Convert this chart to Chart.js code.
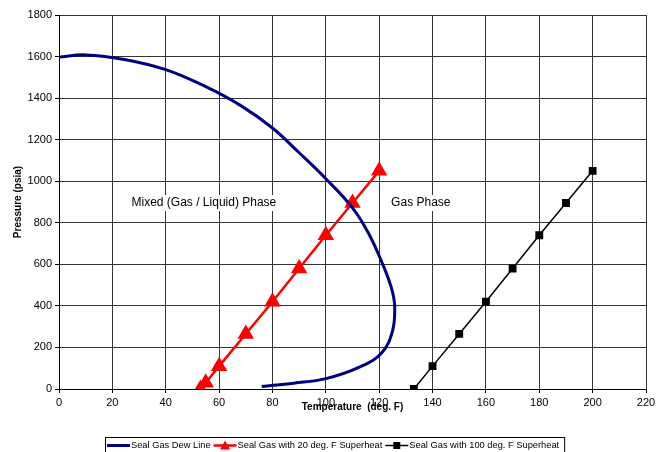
<!DOCTYPE html>
<html>
<head>
<meta charset="utf-8">
<script src="https://cdn.jsdelivr.net/npm/chart.js@4.4.0/dist/chart.umd.min.js"></script>
<style>
html,body{margin:0;padding:0;background:#fff;}
#wrap{width:662px;height:452px;position:relative;}
</style>
</head>
<body>
<div id="wrap"><canvas id="c" width="662" height="452"></canvas></div>
<script>
// ---- data ----
const seriesNames = ["Seal Gas Dew Line", "Seal Gas with 20 deg. F Superheat", "Seal Gas with 100 deg. F Superheat"];
const dewTemp = [0, 10, 25, 40, 55, 68, 80, 90, 100, 110, 116, 121, 124.5, 125.8, 125, 121, 113, 100, 88, 76];
const dewPres = [1598, 1608, 1585, 1537, 1455, 1365, 1256, 1137, 1012, 872, 750, 610, 490, 400, 280, 175, 108, 50, 28, 12];
const sh20Temp = [53, 55, 60, 70, 80, 90, 100, 110, 120];
const sh20Pres = [0, 30, 110, 265, 420, 580, 740, 895, 1050];
const sh100Temp = [133, 140, 150, 160, 170, 180, 190, 200];
const sh100Pres = [0, 110, 265, 420, 580, 740, 895, 1050];
const xTicks = [0, 20, 40, 60, 80, 100, 120, 140, 160, 180, 200, 220];
const yTicks = [0, 200, 400, 600, 800, 1000, 1200, 1400, 1600, 1800];
const xTitle = "Temperature  (deg. F)";
const yTitle = "Pressure (psia)";
const annoText = ["Mixed (Gas / Liquid) Phase", "Gas Phase"];
const annoX = [54.3, 135.6];
const annoY = [895, 895];

const pts = (xs, ys) => xs.map((x, i) => ({x: x, y: ys[i]}));
const FONT = "'Liberation Sans', Arial, sans-serif";

const annoPlugin = {
  id: 'anno',
  afterDatasetsDraw(chart) {
    const ctx = chart.ctx, xs = chart.scales.x, ys = chart.scales.y;
    ctx.save();
    ctx.font = "12px " + FONT;
    ctx.textAlign = 'center';
    ctx.textBaseline = 'middle';
    annoText.forEach((t, i) => {
      const px = xs.getPixelForValue(annoX[i]), py = ys.getPixelForValue(annoY[i]);
      const w = ctx.measureText(t).width;
      ctx.fillStyle = '#fff';
      ctx.fillRect(px - w / 2 - 3, py - 8, w + 6, 16);
      ctx.fillStyle = '#000';
      ctx.fillText(t, px, py);
    });
    ctx.restore();
  }
};

const legendPlugin = {
  id: 'legendBox',
  afterDraw(chart) {
    const ctx = chart.ctx;
    ctx.save();
    ctx.font = "9.3px " + FONT;
    ctx.textBaseline = 'middle';
    const top = 437, cy = 445.5;
    let x = 107;
    const sw = 23;
    const styles = chart.data.datasets;
    const startX = 105;
    styles.forEach((ds, i) => {
      ctx.strokeStyle = ds.borderColor;
      ctx.lineWidth = ds.borderWidth;
      ctx.beginPath(); ctx.moveTo(x, cy); ctx.lineTo(x + sw, cy); ctx.stroke();
      const mx = x + sw / 2;
      ctx.fillStyle = ds.borderColor;
      if (ds.pointStyle === 'triangle') {
        ctx.beginPath(); ctx.moveTo(mx, cy - 5); ctx.lineTo(mx + 5, cy + 4); ctx.lineTo(mx - 5, cy + 4); ctx.closePath(); ctx.fill();
      } else if (ds.pointStyle === 'rect') {
        ctx.fillRect(mx - 3.5, cy - 3.5, 7, 7);
      }
      x += sw + 1;
      ctx.fillStyle = '#000';
      ctx.fillText(seriesNames[i], x, cy);
      x += ctx.measureText(seriesNames[i]).width + 3;
    });
    ctx.strokeStyle = '#000';
    ctx.lineWidth = 1;
    ctx.strokeRect(startX + 0.5, top + 0.5, x - startX + 2, 20);
    ctx.restore();
  }
};

new Chart(document.getElementById('c'), {
  type: 'scatter',
  data: {
    datasets: [
      {label: seriesNames[0], data: pts(dewTemp, dewPres), showLine: true, borderColor: '#000080', backgroundColor: '#000080', borderWidth: 3, pointRadius: 0, tension: 0.4, pointStyle: 'line'},
      {label: seriesNames[1], data: pts(sh20Temp, sh20Pres), showLine: true, borderColor: '#ff0000', backgroundColor: '#ff0000', borderWidth: 2.5, pointRadius: 7, pointStyle: 'triangle', tension: 0},
      {label: seriesNames[2], data: pts(sh100Temp, sh100Pres), showLine: true, borderColor: '#000000', backgroundColor: '#000000', borderWidth: 1.5, pointRadius: 4.5, pointStyle: 'rect', tension: 0}
    ]
  },
  options: {
    responsive: false,
    animation: false,
    layout: {padding: {top: 15, right: 16, left: 0, bottom: 0}},
    plugins: {legend: {display: false}, tooltip: {enabled: false}},
    scales: {
      x: {
        type: 'linear', min: 0, max: 220,
        afterBuildTicks: s => { s.ticks = xTicks.map(v => ({value: v})); },
        afterFit: s => { s.height = 63; },
        ticks: {font: {family: FONT, size: 11}, color: '#000', padding: 3, maxRotation: 0, callback: v => String(v)},
        grid: {color: '#333', lineWidth: 1, tickLength: 4, tickColor: '#000'},
        border: {color: '#000'},
        title: {display: true, text: xTitle, font: {family: FONT, size: 10, weight: 'bold'}, color: '#000', padding: {top: 4, bottom: 39}}
      },
      y: {
        type: 'linear', min: 0, max: 1800,
        afterBuildTicks: s => { s.ticks = yTicks.map(v => ({value: v})); },
        afterFit: s => { s.width = 59; },
        ticks: {font: {family: FONT, size: 11}, color: '#000', padding: 3, callback: v => String(v)},
        grid: {color: '#333', lineWidth: 1, tickLength: 4, tickColor: '#000'},
        border: {color: '#000'},
        title: {display: true, text: yTitle, font: {family: FONT, size: 10, weight: 'bold'}, color: '#000', padding: {top: 12, bottom: 4}}
      }
    }
  },
  plugins: [annoPlugin, legendPlugin]
});
</script>
</body>
</html>
